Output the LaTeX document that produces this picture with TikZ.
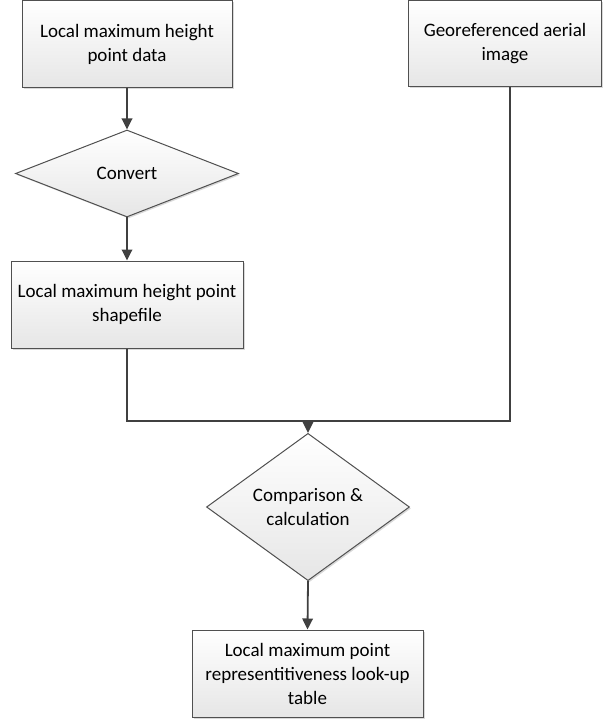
\documentclass[tikz,border=0pt]{standalone}
\usepackage{fontspec}
\setmainfont{Carlito}
\usetikzlibrary{arrows.meta,shapes.geometric,shadows,calc}
\definecolor{linec}{HTML}{404040}
\definecolor{edgec}{HTML}{505050}
\definecolor{fillbot}{HTML}{E6E6E6}
\tikzset{
  procbox/.style={draw=edgec, line width=1pt, top color=white, bottom color=fillbot,
    rectangle, align=center, inner sep=0pt, font=\fontsize{19}{24}\selectfont,
    drop shadow={shadow xshift=1.5pt, shadow yshift=-1.5pt, fill=black!25, opacity=0.6}},
  decbox/.style={draw=edgec, line width=1pt, top color=white, bottom color=fillbot,
    diamond, align=center, inner sep=0pt, font=\fontsize{19}{24}\selectfont,
    drop shadow={shadow xshift=1.5pt, shadow yshift=-1.5pt, fill=black!25, opacity=0.6}},
  conn/.style={draw=linec, line width=1.8pt, -{Triangle[width=10.5pt,length=11pt]}},
  plain/.style={draw=linec, line width=1.8pt},
}
\begin{document}
\begin{tikzpicture}[x=1pt,y=-1pt]
\useasboundingbox (0,0) rectangle (603,719);
\node[procbox, minimum width=210pt, minimum height=87pt] (b1) at (127,44) {Local maximum height\\point data};
\node[procbox, minimum width=193pt, minimum height=86pt] (b2) at (505,44) {Georeferenced aerial\\image};
\node[decbox, minimum width=223pt, minimum height=87pt] (d1) at (127,173.5) {Convert};
\node[procbox, minimum width=232pt, minimum height=87pt] (b3) at (127,304.5) {Local maximum height point\\shapefile};
\node[decbox, minimum width=203pt, minimum height=86pt] (d2) at (308,507) {Comparison \&\\calculation};
\node[procbox, minimum width=231pt, minimum height=87pt] (b4) at (307.5,673.5) {Local maximum point\\representitiveness look-up\\table};
\coordinate (j) at (308,421);
\coordinate (g) at ([xshift=5pt]b2.south);
\draw[conn] (b1.south) -- (d1.north);
\draw[conn] (d1.south) -- (b3.north);
\draw[plain] (b3.south) |- (j);
\draw[plain] (g) |- (j);
\draw[conn] (j) -- (d2.north);
\draw[conn] (d2.south) -- (b4.north);
\end{tikzpicture}
\end{document}
